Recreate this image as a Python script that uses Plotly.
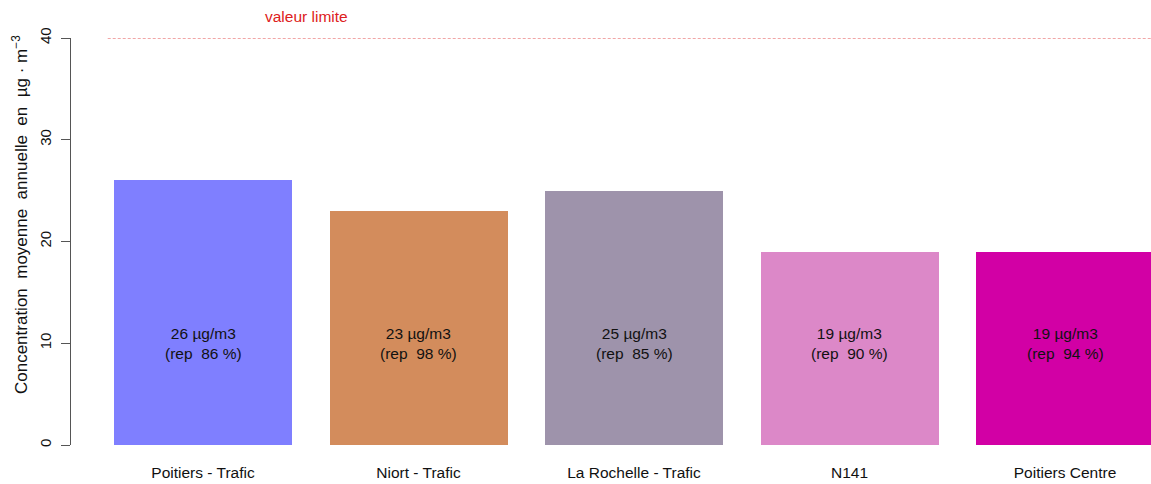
import plotly.graph_objects as go

stations = ["Poitiers - Trafic", "Niort - Trafic", "La Rochelle - Trafic", "N141", "Poitiers Centre"]
concentrations = [26, 23, 25, 19, 19]
representativity = [86, 98, 85, 90, 94]
bar_colors = ["#7f7fff", "#d38c5c", "#9e93ab", "#dc88c8", "#d200a5"]
limit_value = 40
y_ticks = [0, 10, 20, 30, 40]

FONT = "Liberation Sans, Arial, sans-serif"

fig = go.Figure()
fig.add_trace(go.Bar(
    x=stations, y=concentrations, width=0.826,
    marker=dict(color=bar_colors, line=dict(width=0)),
    hoverinfo="skip", showlegend=False,
))

for s, c, r in zip(stations, concentrations, representativity):
    fig.add_annotation(
        x=s, y=10, xref="x", yref="y",
        text=f"{c} µg/m3<br>(rep  {r} %)",
        showarrow=False, font=dict(family=FONT, size=15.5, color="#111111"),
        align="center",
    )

# limit line
fig.add_shape(type="line", xref="paper", yref="y", x0=0.034, x1=1.0,
              y0=limit_value, y1=limit_value,
              line=dict(color="#e45050", width=1, dash="3px,2px"))
fig.add_annotation(x=0.2176, y=1.054, xref="paper", yref="paper", text="valeur limite",
                   showarrow=False, font=dict(family=FONT, size=15.5, color="#dd2020"),
                   xanchor="center", yanchor="middle")

# y title
fig.add_annotation(x=0, y=0.565, xref="paper", yref="paper", xshift=-51,
                   text="Concentration  moyenne  annuelle  en  µg · m<sup>−3</sup>",
                   textangle=-90, showarrow=False,
                   font=dict(family=FONT, size=17, color="#111111"),
                   xanchor="center", yanchor="middle")

fig.update_layout(
    width=1151, height=484,
    margin=dict(l=71, r=0, t=38, b=39),
    plot_bgcolor="white", paper_bgcolor="white",
    font=dict(family=FONT, size=15, color="#111111"),
    bargap=0,
    xaxis=dict(range=[-0.6125, 4.399], showline=False, showgrid=False, zeroline=False,
               ticks="", ticklabelstandoff=16, tickfont=dict(size=15.5)),
    yaxis=dict(range=[0, 40], tickvals=y_ticks, showline=True, linecolor="#555555",
               linewidth=1, ticks="outside", ticklen=9, tickcolor="#555555",
               tickangle=-90, showgrid=False, zeroline=False,
               tickfont=dict(size=15), ticklabelstandoff=4),
)

fig.write_html("out.html", config={"displayModeBar": False},
               post_script="document.body.style.margin='0';document.body.style.overflow='hidden';")
